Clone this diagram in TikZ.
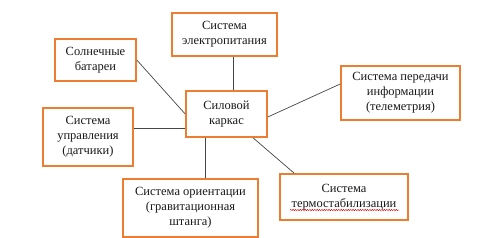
\documentclass[tikz,border=0pt]{standalone}
\usepackage{fontspec}
\setmainfont{Liberation Serif}
\usetikzlibrary{decorations.pathmorphing,calc}
\definecolor{boxorange}{RGB}{237,125,49}
\definecolor{linkgray}{RGB}{70,70,70}
\definecolor{txt}{RGB}{25,25,25}
\begin{document}
\begin{tikzpicture}[x=1pt,y=-1pt,
  box/.style={draw=boxorange, line width=1.6pt, align=center, inner sep=0pt,
    text=txt, font=\fontsize{12.5}{15}\selectfont},
  link/.style={draw=linkgray, line width=0.7pt},
  squiggle/.style={draw=red!85!black, line width=0.45pt,
    decorate, decoration={snake, amplitude=0.6pt, segment length=2.4pt}}]
\useasboundingbox (0,0) rectangle (480,238);
\node[box, minimum width=81pt, minimum height=42pt] (sol) at (95.5,60) {Солнечные\\батареи};
\node[box, minimum width=105pt, minimum height=43pt] (elek) at (224.5,34.5) {Система\\электропитания};
\node[box, minimum width=81pt, minimum height=46pt] (karkas) at (226.5,114) {Силовой\\каркас};
\node[box, minimum width=119pt, minimum height=54pt] (pered) at (400.5,93) {Система передачи\\информации\\(телеметрия)};
\node[box, minimum width=90pt, minimum height=58pt] (upr) at (88,137) {Система\\управления\\(датчики)};
\node[box, minimum width=135pt, minimum height=58pt] (orient) at (190.5,208) {Система ориентации\\(гравитационная\\штанга)};
\node[box, minimum width=128pt, minimum height=46pt] (termo) at (344,197) {Система\\термостабилизации};
\draw[link] (sol.east) -- (karkas.west);
\draw[link] ($(elek.south)+(8.5,0)$) -- ($(karkas.north)+(6.5,0)$);
\draw[link] ($(karkas.east)+(0,3)$) -- ($(pered.west)+(0,-9)$);
\draw[link] ($(upr.east)+(0,-9)$) -- ($(karkas.west)+(0,14)$);
\draw[link] ($(karkas.south)+(-21.5,0)$) -- ($(orient.north)+(14.5,0)$);
\draw[link] ($(karkas.south)+(26.5,0)$) -- ($(termo.north west)+(15,0)$);
\coordinate (sqa) at ($(termo.center)+(-54,13)$);
\coordinate (sqb) at ($(termo.center)+(55,13)$);
\draw[squiggle] (sqa) -- (sqb);
\end{tikzpicture}
\end{document}
